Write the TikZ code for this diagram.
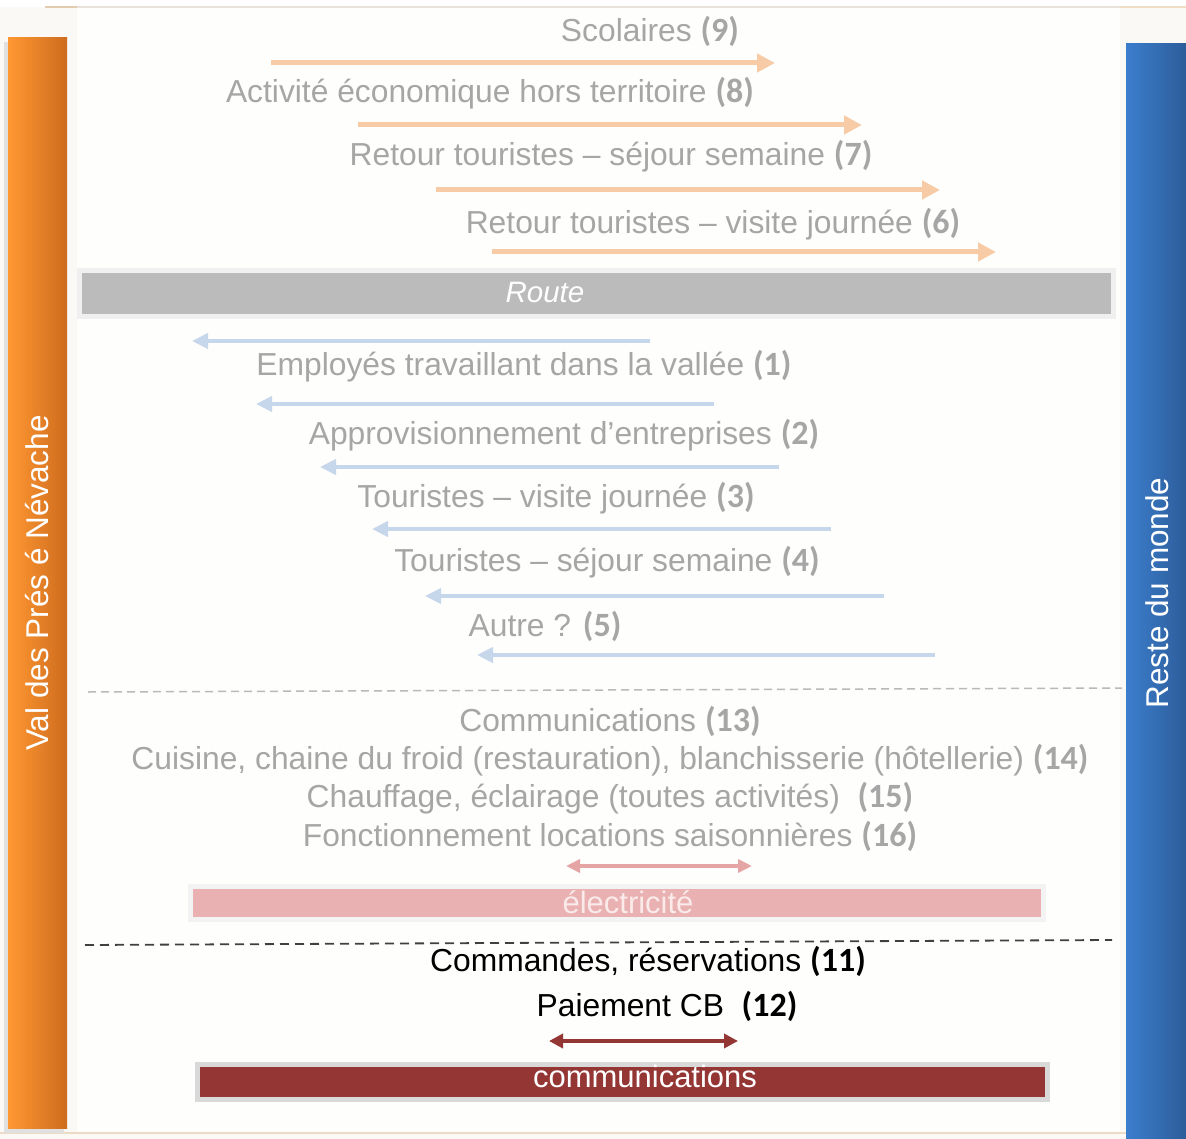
\documentclass[tikz,border=0pt]{standalone}
\usepackage{fontspec}
\setmainfont{Liberation Sans}
\newfontfamily\numfont{Carlito}
\usetikzlibrary{arrows.meta}
\definecolor{bgout}{HTML}{FAF9F6}
\definecolor{bgin}{HTML}{FEFEFC}
\definecolor{peach}{HTML}{F7CBA6}
\definecolor{lblue}{HTML}{C6D6EB}
\definecolor{gtxt}{HTML}{A6A6A6}
\definecolor{pinkbar}{HTML}{E9B1B1}
\definecolor{pinkarr}{HTML}{E6A5A5}
\definecolor{dred}{HTML}{943634}
\definecolor{orL}{HTML}{FF9832}
\definecolor{orR}{HTML}{CE6C1E}
\definecolor{blL}{HTML}{3B7ECD}
\definecolor{blR}{HTML}{2D5D9A}
\newcommand{\nbold}[1]{{\numfont\bfseries\fontsize{34}{38}\selectfont #1}}
\begin{document}
\begin{tikzpicture}[x=1pt,y=-1pt,
  lab/.style={font=\fontsize{31.8}{36}\selectfont, text=gtxt, inner sep=0pt, align=center},
  blab/.style={font=\fontsize{31.8}{36}\selectfont, text=black, inner sep=0pt},
  outarr/.style={draw=peach, line width=5pt, -{Triangle[length=18pt,width=18pt]}},
  inarr/.style={draw=lblue, line width=4pt, -{Triangle[length=16pt,width=15pt]}},
  elarr/.style={draw=pinkarr, line width=3.5pt, {Triangle[length=14pt,width=13pt]}-{Triangle[length=14pt,width=13pt]}},
  comarr/.style={draw=dred, line width=3.5pt, {Triangle[length=14pt,width=14pt]}-{Triangle[length=14pt,width=14pt]}},
  barbox/.style={inner sep=0pt, line width=5pt},
  sidebar/.style={inner sep=0pt, minimum width=59pt, text=white}
]
\useasboundingbox (0,0) rectangle (1186,1139);
% background
\fill[bgout] (0,0) rectangle (1186,1139);
\fill[white] (0,0) rectangle (1186,7);
\fill[bgin] (77,8) rectangle (1120,1132);
\draw[line width=2pt, draw={rgb,255:red,232;green,226;blue,218}] (77,7) -- (1120,7);
\draw[line width=2pt, draw={rgb,255:red,226;green,204;blue,176}] (45,7) -- (77,7);
\draw[line width=2pt, draw={rgb,255:red,238;green,220;blue,196}] (1120,7) -- (1186,7);
\draw[line width=2pt, draw={rgb,255:red,236;green,218;blue,196}] (0,1133) -- (1126,1133);

% side bars
\fill[black!12] (4,42) rectangle (64,1133);
\node[sidebar, minimum height=1090pt, left color=orL, right color=orR] (val) at (37.5,583) {};
\node[rotate=90, text=white, font=\fontsize{31.5}{35}\selectfont, inner sep=0pt] (valt) at (val.center) {Val des Prés é Névache};
\node[sidebar, minimum width=60pt, minimum height=1095pt, left color=blL, right color=blR] (rdm) at (1156,591.5) {};
\node[rotate=90, text=white, font=\fontsize{31.5}{35}\selectfont, inner sep=0pt] (rdmt) at (1157,593) {Reste du monde};

% outgoing flows
\node[lab] (t9) at (650,31) {Scolaires \nbold{(9)}};
\coordinate (o9s) at (271,63); \coordinate (o9e) at (775,63);
\draw[outarr] (o9s) -- (o9e);
\node[lab] (t8) at (490,93) {Activité économique hors territoire \nbold{(8)}};
\coordinate (o8s) at (358,125); \coordinate (o8e) at (862,125);
\draw[outarr] (o8s) -- (o8e);
\node[lab] (t7) at (611,156) {Retour touristes – séjour semaine \nbold{(7)}};
\coordinate (o7s) at (436,190); \coordinate (o7e) at (940,190);
\draw[outarr] (o7s) -- (o7e);
\node[lab] (t6) at (713,224) {Retour touristes – visite journée \nbold{(6)}};
\coordinate (o6s) at (492,252); \coordinate (o6e) at (996,252);
\draw[outarr] (o6s) -- (o6e);

% route bar
\node[barbox, fill={rgb,255:red,187;green,187;blue,187}, draw={rgb,255:red,240;green,240;blue,240}, minimum width=1034pt, minimum height=46pt] (route) at (596.5,294) {};
\node[text=white, font=\fontsize{29.5}{33}\selectfont\itshape, inner sep=0pt] (routet) at (545,292) {Route};

% incoming flows
\coordinate (b1s) at (650,341); \coordinate (b1e) at (192,341);
\draw[inarr] (b1s) -- (b1e);
\node[lab] (t1) at (524,366) {Employés travaillant dans la vallée \nbold{(1)}};
\coordinate (b2s) at (714,404); \coordinate (b2e) at (256,404);
\draw[inarr] (b2s) -- (b2e);
\node[lab] (t2) at (564,435) {Approvisionnement d’entreprises \nbold{(2)}};
\coordinate (b3s) at (779,467); \coordinate (b3e) at (320,467);
\draw[inarr] (b3s) -- (b3e);
\node[lab] (t3) at (556,498) {Touristes – visite journée \nbold{(3)}};
\coordinate (b4s) at (831,529); \coordinate (b4e) at (372,529);
\draw[inarr] (b4s) -- (b4e);
\node[lab] (t4) at (607,562) {Touristes – séjour semaine \nbold{(4)}};
\coordinate (b5s) at (884,596); \coordinate (b5e) at (425,596);
\draw[inarr] (b5s) -- (b5e);
\node[lab] (t5) at (545,626) {Autre ? \nbold{(5)}};
\coordinate (b6s) at (935,655); \coordinate (b6e) at (477,655);
\draw[inarr] (b6s) -- (b6e);

% separator 1
\coordinate (d1s) at (88,692); \coordinate (d1e) at (1122,688);
\draw[draw={rgb,255:red,185;green,185;blue,185}, line width=1.5pt, dash pattern=on 8pt off 5pt] (d1s) -- (d1e);

% electricity
\node[lab] (t13) at (610,721) {Communications \nbold{(13)}};
\node[lab] (t14) at (610,760) {Cuisine, chaine du froid (restauration), blanchisserie (hôtellerie) \nbold{(14)}};
\node[lab] (t15) at (610,798) {Chauffage, éclairage (toutes activités)\ \ \nbold{(15)}};
\node[lab] (t16) at (610,836) {Fonctionnement locations saisonnières \nbold{(16)}};
\coordinate (e1) at (566,866); \coordinate (e2) at (752,866);
\draw[elarr] (e1) -- (e2);
\node[barbox, fill=pinkbar, draw={rgb,255:red,243;green,243;blue,243}, minimum width=853pt, minimum height=33.5pt] (elec) at (617,903) {};
\node[text={rgb,255:red,250;green,234;blue,234}, font=\fontsize{31}{35}\selectfont, inner sep=0pt] (elect) at (628,902) {électricité};

% separator 2
\coordinate (d2s) at (85,945); \coordinate (d2e) at (1112,940);
\draw[draw={rgb,255:red,64;green,64;blue,64}, line width=1.8pt, dash pattern=on 9pt off 6pt] (d2s) -- (d2e);

% communications
\node[blab] (t11) at (648,961) {Commandes, réservations \nbold{(11)}};
\node[blab] (t12) at (667,1006) {Paiement CB\ \ \nbold{(12)}};
\coordinate (c1) at (549,1041); \coordinate (c2) at (738,1041);
\draw[comarr] (c1) -- (c2);
\node[barbox, fill=dred, draw={rgb,255:red,217;green,217;blue,217}, minimum width=850pt, minimum height=34.5pt] (com) at (622.5,1081.75) {};
\node[text=white, font=\fontsize{31}{35}\selectfont, inner sep=0pt] (comt) at (645,1076) {communications};
\end{tikzpicture}
\end{document}
